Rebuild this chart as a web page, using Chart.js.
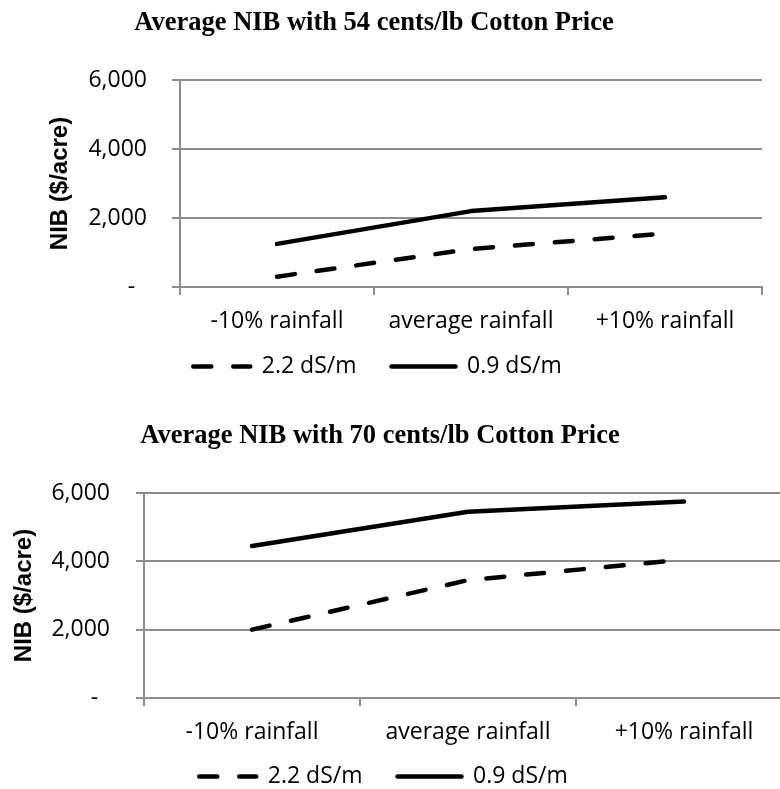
<!DOCTYPE html>
<html>
<head>
<meta charset="utf-8">
<title>Average NIB by Cotton Price</title>
<script src="https://cdn.jsdelivr.net/npm/chart.js@4/dist/chart.umd.min.js"></script>
<style>
  html, body { margin: 0; padding: 0; background: #fff; }
  body { width: 780px; height: 789px; overflow: hidden; position: relative; }
  canvas { position: absolute; }
</style>
</head>
<body>
<canvas id="chart54"></canvas>
<canvas id="chart70"></canvas>
<script>
// Rainfall scenarios on the x axis
const categories = ['-10% rainfall', 'average rainfall', '+10% rainfall'];
// Series names (irrigation water salinity)
const seriesLabels = ['2.2 dS/m', '0.9 dS/m'];

// Net irrigation benefit, $/acre — 54 cents/lb cotton
const nib54Saline = [300, 1100, 1550];
const nib54Fresh = [1250, 2200, 2600];

// Net irrigation benefit, $/acre — 70 cents/lb cotton
const nib70Saline = [2000, 3450, 4050];
const nib70Fresh = [4450, 5450, 5750];

// Value axis
const yTickValues = [0, 2000, 4000, 6000];
const yTickLabels = ['-  ', '2,000', '4,000', '6,000'];

const titles = [
  'Average NIB with 54 cents/lb Cotton Price',
  'Average NIB with 70 cents/lb Cotton Price'
];
const yAxisTitle = 'NIB ($/acre)';

const GRID = '#8c8c8c';
const TEXT_FONT = 'Open Sans';

function makeChart(id, title, saline, fresh, geo) {
  const canvas = document.getElementById(id);
  canvas.width = geo.width;
  canvas.height = geo.height;
  canvas.style.width = geo.width + 'px';
  canvas.style.height = geo.height + 'px';
  canvas.style.left = geo.left + 'px';
  canvas.style.top = geo.top + 'px';

  return new Chart(canvas, {
    type: 'line',
    data: {
      labels: categories,
      datasets: [
        {
          label: seriesLabels[0],
          data: saline,
          borderColor: '#000',
          backgroundColor: '#000',
          borderWidth: 4.5,
          borderDash: [18, 22],
          borderCapStyle: 'round',
          borderJoinStyle: 'round',
          pointRadius: 0,
          tension: 0,
          fill: false
        },
        {
          label: seriesLabels[1],
          data: fresh,
          borderColor: '#000',
          backgroundColor: '#000',
          borderWidth: 4.5,
          borderCapStyle: 'round',
          borderJoinStyle: 'round',
          pointRadius: 0,
          tension: 0,
          fill: false
        }
      ]
    },
    options: {
      responsive: false,
      animation: false,
      devicePixelRatio: 1,
      layout: { padding: { left: 0, right: geo.padRight, top: 0, bottom: 0 } },
      plugins: {
        title: {
          display: true,
          text: title,
          color: '#000',
          font: { family: 'Liberation Serif', size: 26.5, weight: 'bold', lineHeight: 1.2 },
          padding: { top: 7.1, bottom: 41.1 }
        },
        legend: {
          display: true,
          position: 'bottom',
          labels: {
            usePointStyle: true,
            pointStyleWidth: 64,
            padding: 35,
            color: '#000',
            font: { family: TEXT_FONT, size: 23 },
            generateLabels: (chart) => chart.data.datasets.map((ds, i) => ({
              text: ds.label,
              fillStyle: ds.borderColor,
              strokeStyle: ds.borderColor,
              fontColor: '#000',
              lineWidth: ds.borderWidth,
              lineDash: ds.borderDash || [],
              lineDashOffset: 33,
              lineCap: 'round',
              lineJoin: 'round',
              pointStyle: 'line',
              hidden: false,
              datasetIndex: i
            }))
          }
        },
        tooltip: { enabled: false }
      },
      scales: {
        x: {
          type: 'category',
          offset: true,
          afterFit: (scale) => { scale.height = geo.xAxisHeight; },
          grid: {
            display: true,
            offset: true,
            drawOnChartArea: false,
            drawTicks: true,
            tickLength: 8,
            color: GRID,
            lineWidth: 2
          },
          border: { display: true, color: GRID, width: 2 },
          ticks: {
            color: '#000',
            // mirrored so the labels may sit below the scale box (over the legend gap)
            mirror: true,
            padding: geo.xTickPad,
            maxRotation: 0,
            autoSkip: false,
            font: { family: TEXT_FONT, size: 23, lineHeight: 1.2 }
          }
        },
        y: {
          min: yTickValues[0],
          max: yTickValues[yTickValues.length - 1],
          afterFit: (scale) => { scale.width = geo.yAxisWidth; },
          afterBuildTicks: (scale) => {
            scale.ticks = yTickValues.map((v) => ({ value: v }));
          },
          grid: {
            display: true,
            drawOnChartArea: true,
            drawTicks: true,
            tickLength: 8,
            color: GRID,
            lineWidth: 2
          },
          border: { display: true, color: GRID, width: 2 },
          ticks: {
            color: '#000',
            padding: geo.yTickPad,
            font: { family: TEXT_FONT, size: 23, lineHeight: 1.2 },
            callback: (value) => {
              const idx = yTickValues.indexOf(value);
              return idx >= 0 ? yTickLabels[idx] : '';
            }
          },
          title: {
            display: true,
            text: yAxisTitle,
            color: '#000',
            font: { family: 'Liberation Sans', size: 24, weight: 'bold', lineHeight: 1.2 },
            padding: { top: geo.yTitlePad, bottom: 0 }
          }
        }
      }
    }
  });
}

makeChart('chart54', titles[0], nib54Saline, nib54Fresh, {
  left: -14, top: 0, width: 784, height: 388,
  padRight: 8, yAxisWidth: 194, yTitlePad: 59.6, yTickPad: 25,
  xAxisHeight: 33, xTickPad: -47.8
});

makeChart('chart70', titles[1], nib70Saline, nib70Fresh, {
  left: -32, top: 413, width: 824, height: 385,
  padRight: 0, yAxisWidth: 176, yTitlePad: 41.6, yTickPad: 26,
  xAxisHeight: 32, xTickPad: -48.5
});
</script>
</body>
</html>
